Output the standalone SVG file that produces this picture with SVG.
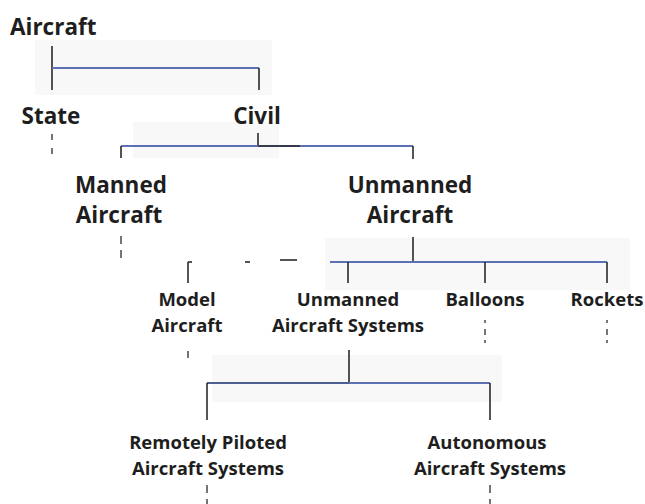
<svg xmlns="http://www.w3.org/2000/svg" width="645" height="504" viewBox="0 0 645 504">
  <style>
    .t1 { font-family: "Open Sans", "Liberation Sans", sans-serif; font-weight: 700; font-size: 22.5px; fill: #1e1e1e; }
    .t2 { font-family: "Open Sans", "Liberation Sans", sans-serif; font-weight: 700; font-size: 18.5px; fill: #1e1e1e; }
    .c { text-anchor: middle; }
    .bar { stroke: #5b71b3; stroke-width: 2; fill: none; }
    .stem { stroke: #2a2a2a; stroke-width: 1.6; fill: none; }
    .dash { stroke: #3a3a3a; stroke-width: 1.4; fill: none; }
    .shade { fill: #f8f8f8; }
  </style>
  <rect width="645" height="504" fill="#ffffff"/>
  <g id="shading">
    <rect class="shade" x="35" y="40" width="237" height="55"/>
    <rect class="shade" x="133" y="122" width="146" height="36"/>
    <rect class="shade" x="325" y="238" width="305" height="52"/>
    <rect class="shade" x="212" y="355" width="290" height="47"/>
  </g>
  <g id="connectors">
    <line class="stem" x1="52" y1="46" x2="52" y2="90"/>
    <line class="bar" x1="52" y1="68" x2="259" y2="68"/>
    <line class="stem" x1="259" y1="68" x2="259" y2="90"/>
    <line class="dash" x1="52" y1="134" x2="52" y2="160" stroke-dasharray="6 8"/>
    <line class="stem" x1="258" y1="133" x2="258" y2="146"/>
    <line class="bar" x1="121" y1="146" x2="413" y2="146"/>
    <line class="stem" x1="258" y1="146" x2="300" y2="146"/>
    <line class="stem" x1="121" y1="146" x2="121" y2="158"/>
    <line class="stem" x1="413" y1="146" x2="413" y2="159"/>
    <line class="dash" x1="121" y1="236" x2="121" y2="262" stroke-dasharray="8 6"/>
    <line class="stem" x1="413" y1="237" x2="413" y2="262"/>
    <line class="bar" x1="330" y1="262" x2="607" y2="262"/>
    <line class="stem" x1="188" y1="262" x2="192" y2="262"/>
    <line class="stem" x1="188" y1="262" x2="188" y2="283"/>
    <line class="stem" x1="245" y1="262" x2="250" y2="262"/>
    <line class="stem" x1="280" y1="260" x2="297" y2="260"/>
    <line class="stem" x1="348" y1="262" x2="348" y2="283"/>
    <line class="stem" x1="485" y1="262" x2="485" y2="283"/>
    <line class="stem" x1="607" y1="262" x2="607" y2="283"/>
    <line class="dash" x1="188" y1="351" x2="188" y2="358"/>
    <line class="dash" x1="485" y1="320" x2="485" y2="348" stroke-dasharray="3 6 6 5"/>
    <line class="dash" x1="607" y1="320" x2="607" y2="348" stroke-dasharray="3 6 6 5"/>
    <line class="stem" x1="349" y1="350" x2="349" y2="383"/>
    <line class="bar" x1="207" y1="383" x2="490" y2="383"/>
    <line class="stem" x1="207" y1="383" x2="349" y2="383" stroke-opacity="0.35"/>
    <line class="stem" x1="207" y1="383" x2="207" y2="420"/>
    <line class="stem" x1="490" y1="383" x2="490" y2="420"/>
    <line class="dash" x1="207" y1="485" x2="207" y2="504" stroke-dasharray="8 6"/>
    <line class="dash" x1="490" y1="485" x2="490" y2="504" stroke-dasharray="8 6"/>
  </g>
  <g id="node-aircraft"><text class="t1" x="10" y="35">Aircraft</text></g>
  <g id="node-state"><text class="t1 c" x="51" y="124">State</text></g>
  <g id="node-civil"><text class="t1 c" x="257" y="124">Civil</text></g>
  <g id="node-manned"><text class="t1 c" x="121" y="193">Manned</text><text class="t1 c" x="119" y="223">Aircraft</text></g>
  <g id="node-unmanned"><text class="t1 c" x="410" y="193">Unmanned</text><text class="t1 c" x="410" y="223">Aircraft</text></g>
  <g id="node-model"><text class="t2 c" x="187" y="306">Model</text><text class="t2 c" x="187" y="332">Aircraft</text></g>
  <g id="node-uas"><text class="t2 c" x="348" y="306">Unmanned</text><text class="t2 c" x="348" y="332">Aircraft Systems</text></g>
  <g id="node-balloons"><text class="t2 c" x="485" y="306">Balloons</text></g>
  <g id="node-rockets"><text class="t2 c" x="607" y="306">Rockets</text></g>
  <g id="node-rpas"><text class="t2 c" x="208" y="449">Remotely Piloted</text><text class="t2 c" x="208" y="475">Aircraft Systems</text></g>
  <g id="node-autonomous"><text class="t2 c" x="487" y="449">Autonomous</text><text class="t2 c" x="490" y="475">Aircraft Systems</text></g>
</svg>
